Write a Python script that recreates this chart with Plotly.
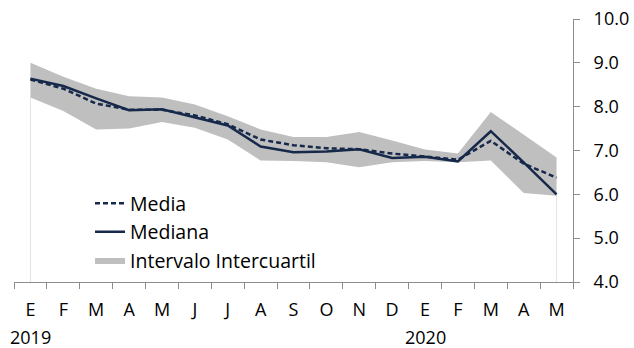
import plotly.graph_objects as go

# ---- data ----
categories = ["2019-01", "2019-02", "2019-03", "2019-04", "2019-05", "2019-06",
              "2019-07", "2019-08", "2019-09", "2019-10", "2019-11", "2019-12",
              "2020-01", "2020-02", "2020-03", "2020-04", "2020-05"]
month_labels = ["E", "F", "M", "A", "M", "J", "J", "A", "S", "O", "N", "D",
                "E", "F", "M", "A", "M"]
year_labels = {"2019-01": "2019", "2020-01": "2020"}

media = [8.62, 8.41, 8.07, 7.93, 7.93, 7.80, 7.60, 7.25, 7.12, 7.05, 7.03, 6.93,
         6.86, 6.79, 7.22, 6.70, 6.38]
mediana = [8.64, 8.47, 8.19, 7.92, 7.94, 7.75, 7.57, 7.09, 6.96, 6.98, 7.03, 6.83,
           6.86, 6.75, 7.44, 6.73, 6.00]
q_low = [8.21, 7.90, 7.48, 7.50, 7.65, 7.52, 7.25, 6.77, 6.76, 6.73, 6.62, 6.73,
         6.76, 6.73, 6.77, 6.03, 5.97]
q_high = [9.00, 8.68, 8.41, 8.24, 8.21, 8.05, 7.78, 7.48, 7.31, 7.31, 7.42, 7.23,
          7.02, 6.93, 7.88, 7.35, 6.84]

y_ticks = [4, 5, 6, 7, 8, 9, 10]

NAVY = "#16294a"
BAND = "#bfbfbf"
AXIS = "#8c8c8c"
FONT = "Open Sans"

fig = go.Figure()

# interquartile band
fig.add_trace(go.Scatter(x=categories, y=q_low, mode="lines",
                         line=dict(width=0, color=BAND), showlegend=False,
                         hoverinfo="skip"))
fig.add_trace(go.Scatter(x=categories, y=q_high, mode="lines", fill="tonexty",
                         fillcolor=BAND, line=dict(width=0, color=BAND),
                         name="Intervalo Intercuartil", legendrank=3))

fig.add_trace(go.Scatter(x=categories, y=mediana, mode="lines",
                         line=dict(color=NAVY, width=2.5),
                         name="Mediana", legendrank=2))
fig.add_trace(go.Scatter(x=categories, y=media, mode="lines",
                         line=dict(color=NAVY, width=2.5, dash="5px,3px"),
                         name="Media", legendrank=1))

# faint area edges at both ends
for i in (0, len(categories) - 1):
    fig.add_shape(type="line", xref="x", yref="y", x0=categories[i], x1=categories[i],
                  y0=y_ticks[0], y1=q_low[i], line=dict(color="#e3e3e3", width=1),
                  layer="below")

ticktext = list(month_labels)

# year labels under the month labels
for c, yr in year_labels.items():
    fig.add_annotation(x=c, xref="x", y=-0.209, yref="paper", text=yr,
                       showarrow=False, yanchor="middle",
                       font=dict(family=FONT, size=18, color="#000000"))

fig.update_layout(
    template="none",
    width=634, height=348,
    margin=dict(l=14, r=61, t=19, b=66, autoexpand=False),
    paper_bgcolor="white", plot_bgcolor="white",
    font=dict(family=FONT, size=18, color="#000000"),
    showlegend=True,
    legend=dict(x=0.136, y=0.372, xanchor="left", yanchor="top",
                traceorder="normal",
                bgcolor="rgba(0,0,0,0)", tracegroupgap=0,
                font=dict(family=FONT, size=19.5, color="#000000")),
    xaxis=dict(type="category", categoryorder="array", categoryarray=categories,
               tickvals=categories, ticktext=ticktext, tickson="boundaries",
               ticks="outside", ticklen=6, tickcolor=AXIS, showline=True,
               linecolor=AXIS, linewidth=1, showgrid=False, zeroline=False,
               automargin=False, ticklabelstandoff=11,
               tickfont=dict(family=FONT, size=18), range=[-0.5, len(categories) - 0.5]),
    yaxis=dict(side="right", range=[y_ticks[0], y_ticks[-1]], tickvals=y_ticks,
               tickformat=".1f", ticks="outside", ticklen=6, tickcolor=AXIS,
               showline=True, linecolor=AXIS, linewidth=1, showgrid=False,
               zeroline=False, automargin=False, ticklabelstandoff=10,
               tickfont=dict(family=FONT, size=18)),
)

fig.write_html("out.html",
               config={"displayModeBar": False},
               post_script="document.body.style.margin='0px';"
                           "document.body.style.overflow='hidden';")
